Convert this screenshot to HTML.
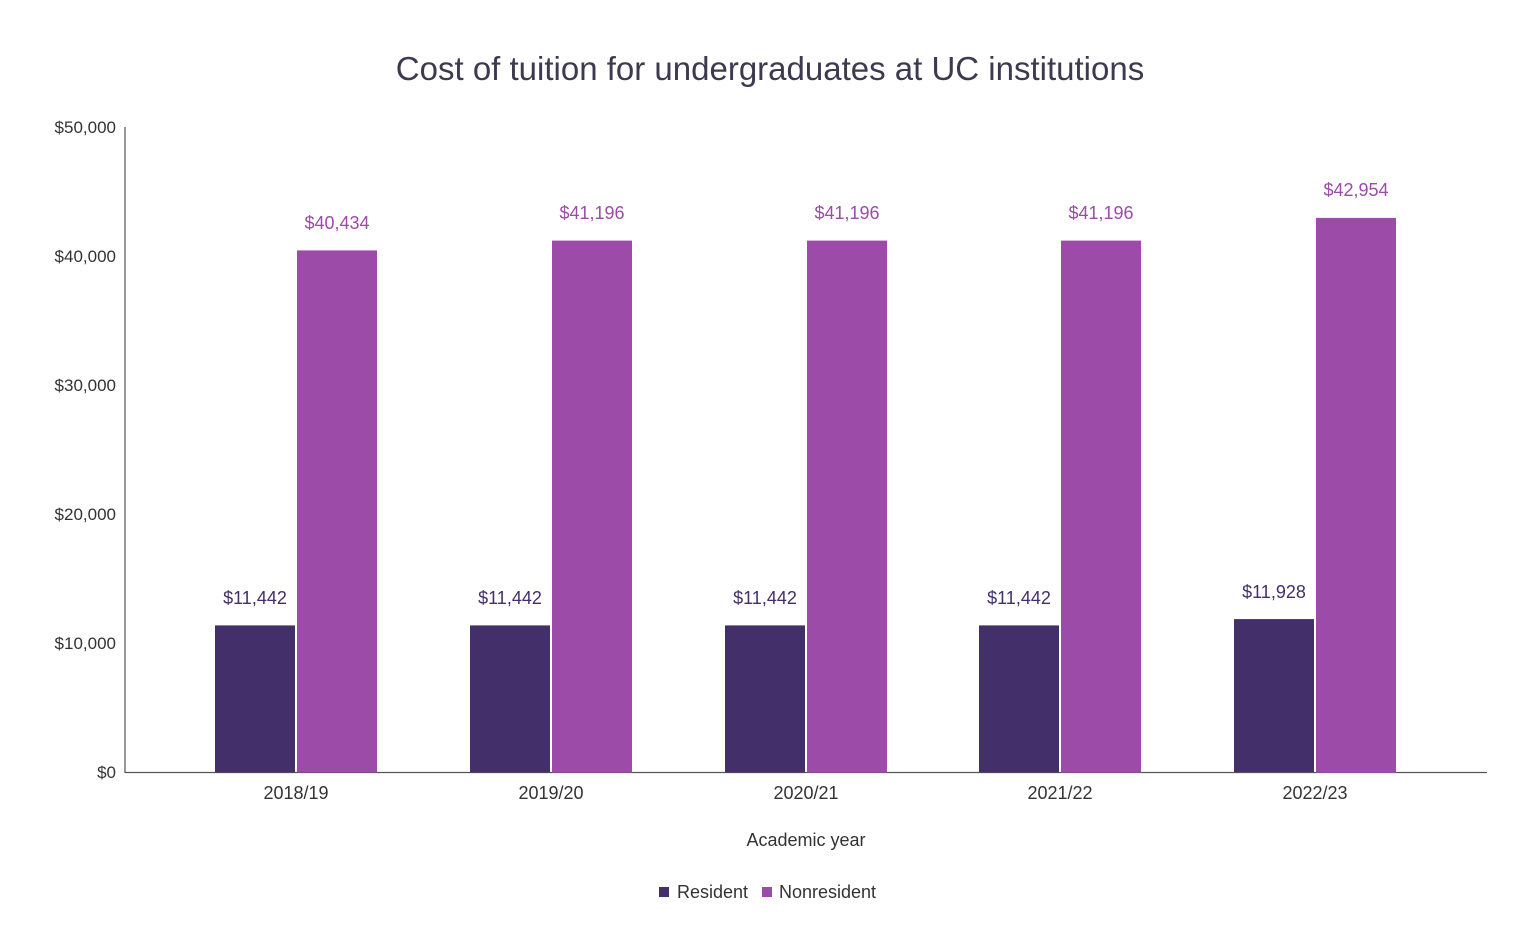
<!DOCTYPE html>
<html><head><meta charset="utf-8"><style>
html,body{margin:0;padding:0;background:#fff;}
svg{display:block;font-family:"Liberation Sans",sans-serif;}
</style></head><body>
<svg width="1536" height="951" viewBox="0 0 1536 951">
<text x="770" y="80" text-anchor="middle" font-size="33" fill="#3d3a50">Cost of tuition for undergraduates at UC institutions</text>
<g font-size="17" fill="#333" text-anchor="end">
<text x="116" y="133">$50,000</text>
<text x="116" y="262">$40,000</text>
<text x="116" y="391">$30,000</text>
<text x="116" y="520">$20,000</text>
<text x="116" y="649">$10,000</text>
<text x="116" y="778">$0</text>
</g>
<line x1="125" y1="127" x2="125" y2="773" stroke="#333" stroke-width="1"/>
<line x1="125" y1="772.5" x2="1487" y2="772.5" stroke="#555" stroke-width="1.2"/>
<g>
<rect x="215" y="625.4" width="80" height="147" fill="#432f69"/>
<rect x="297" y="250.4" width="80" height="522" fill="#9c4ca8"/>
<rect x="470" y="625.4" width="80" height="147" fill="#432f69"/>
<rect x="552" y="240.6" width="80" height="532" fill="#9c4ca8"/>
<rect x="725" y="625.4" width="80" height="147" fill="#432f69"/>
<rect x="807" y="240.6" width="80" height="532" fill="#9c4ca8"/>
<rect x="979" y="625.4" width="80" height="147" fill="#432f69"/>
<rect x="1061" y="240.6" width="80" height="532" fill="#9c4ca8"/>
<rect x="1234" y="619.1" width="80" height="153" fill="#432f69"/>
<rect x="1316" y="217.9" width="80" height="555" fill="#9c4ca8"/>
</g>
<g font-size="18" text-anchor="middle" fill="#432f69">
<text x="255" y="604">$11,442</text>
<text x="510" y="604">$11,442</text>
<text x="765" y="604">$11,442</text>
<text x="1019" y="604">$11,442</text>
<text x="1274" y="598">$11,928</text>
</g>
<g font-size="18" text-anchor="middle" fill="#9c4ca8">
<text x="337" y="229">$40,434</text>
<text x="592" y="219">$41,196</text>
<text x="847" y="219">$41,196</text>
<text x="1101" y="219">$41,196</text>
<text x="1356" y="196">$42,954</text>
</g>
<g font-size="18" text-anchor="middle" fill="#333">
<text x="296" y="799">2018/19</text>
<text x="551" y="799">2019/20</text>
<text x="806" y="799">2020/21</text>
<text x="1060" y="799">2021/22</text>
<text x="1315" y="799">2022/23</text>
<text x="806" y="846">Academic year</text>
</g>
<rect x="659" y="887" width="10" height="10" fill="#432f69"/>
<text x="677" y="898" font-size="18" fill="#333">Resident</text>
<rect x="762" y="887" width="10" height="10" fill="#9c4ca8"/>
<text x="779" y="898" font-size="18" fill="#333">Nonresident</text>
</svg>
</body></html>
